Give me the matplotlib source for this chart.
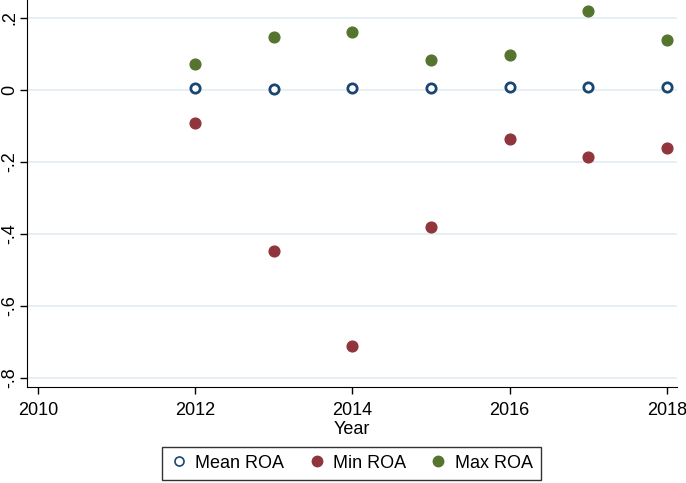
import matplotlib
matplotlib.use("Agg")
import matplotlib.pyplot as plt
from matplotlib.lines import Line2D

# ROA by year
years = [2012, 2013, 2014, 2015, 2016, 2017, 2018]
mean_roa = [0.006, 0.003, 0.005, 0.005, 0.008, 0.008, 0.007]
min_roa = [-0.092, -0.447, -0.711, -0.381, -0.136, -0.186, -0.161]
max_roa = [0.072, 0.147, 0.161, 0.083, 0.097, 0.219, 0.139]

xticks = [2010, 2012, 2014, 2016, 2018]
yticks = [0.2, 0, -0.2, -0.4, -0.6, -0.8]
ylabels = [".2", "0", "-.2", "-.4", "-.6", "-.8"]

plt.rcParams['font.family'] = ['Liberation Sans', 'DejaVu Sans']

fig = plt.figure(figsize=(6.86, 4.83), dpi=100)
ax = fig.add_axes([27/686, 1 - 387/483, 650/686, 387/483])

ax.scatter(years, mean_roa, s=45, facecolors='white', edgecolors='#1a476f',
           linewidths=2, zorder=3)
ax.scatter(years, min_roa, s=60, color='#90353b', zorder=3)
ax.scatter(years, max_roa, s=60, color='#55752f', zorder=3)

ax.set_xlim(2009.86, 2018.13)
ax.set_ylim(-0.825, 0.25)
ax.set_xticks(xticks)
ax.set_yticks(yticks)
ax.set_yticklabels(ylabels, rotation=90, va='center')
ax.tick_params(axis='both', labelsize=13, length=5, width=1, color='black')
ax.tick_params(axis='x', pad=6)
ax.tick_params(axis='y', pad=1.5)
ax.grid(axis='y', color='#e4ebf3', linewidth=1.2)
ax.set_axisbelow(True)
ax.spines['top'].set_visible(False)
ax.spines['right'].set_visible(False)
ax.set_xlabel('Year', fontsize=13, labelpad=1)

handles = [
    Line2D([], [], ls='none', marker='o', ms=6.5, mfc='white', mec='#1a476f', mew=1.2),
    Line2D([], [], ls='none', marker='o', ms=7.5, color='#90353b'),
    Line2D([], [], ls='none', marker='o', ms=7.5, color='#55752f'),
]
leg = fig.legend(handles, ['Mean ROA', 'Min ROA', 'Max ROA'], loc='lower center',
                 ncol=3, bbox_to_anchor=(0.512, -0.012), fontsize=13, frameon=True,
                 fancybox=False, edgecolor='black', handlelength=1.0,
                 handletextpad=0.4, columnspacing=1.3, borderpad=0.45)
leg.get_frame().set_linewidth(1)

fig.savefig('out.png', dpi=100)
